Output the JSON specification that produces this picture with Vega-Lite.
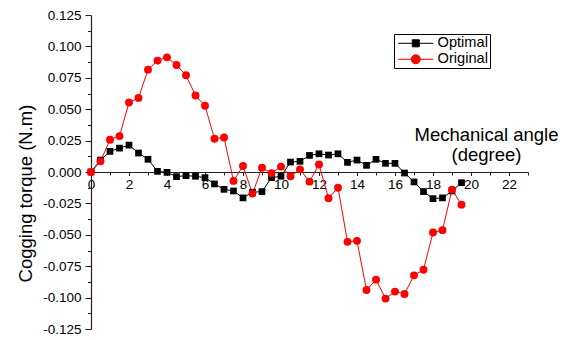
{
  "$schema": "https://vega.github.io/schema/vega-lite/v6.json",
  "autosize": "none",
  "padding": {"left": 91, "top": 15, "right": 36, "bottom": 11},
  "width": 437,
  "height": 314,
  "config": {
    "view": {"stroke": null},
    "font": "Liberation Sans",
    "axis": {"grid": false, "domainColor": "#222222", "tickColor": "#222222", "labelColor": "#000000", "titleColor": "#000000", "labelFont": "Liberation Sans", "titleFont": "Liberation Sans", "titleFontWeight": "normal"},
    "legend": {
      "orient": "none", "legendX": 303, "legendY": 19,
      "strokeColor": "#000000", "padding": 2, "fillColor": "#ffffff",
      "labelFont": "Liberation Sans", "labelFontSize": 14.6, "labelColor": "#000000",
      "labelOffset": 27, "rowPadding": 1, "symbolSize": 100, "symbolStrokeWidth": 1
    }
  },
  "data": {
    "values": [
      {"angle": 0, "torque": 0, "series": "Optimal"},
      {"angle": 0.5, "torque": 0.0095, "series": "Optimal"},
      {"angle": 1, "torque": 0.0164, "series": "Optimal"},
      {"angle": 1.5, "torque": 0.019, "series": "Optimal"},
      {"angle": 2, "torque": 0.0214, "series": "Optimal"},
      {"angle": 2.5, "torque": 0.0151, "series": "Optimal"},
      {"angle": 3, "torque": 0.0101, "series": "Optimal"},
      {"angle": 3.5, "torque": 0.0005, "series": "Optimal"},
      {"angle": 4, "torque": -0.0003, "series": "Optimal"},
      {"angle": 4.5, "torque": -0.0037, "series": "Optimal"},
      {"angle": 5, "torque": -0.0029, "series": "Optimal"},
      {"angle": 5.5, "torque": -0.0034, "series": "Optimal"},
      {"angle": 6, "torque": -0.0045, "series": "Optimal"},
      {"angle": 6.5, "torque": -0.0095, "series": "Optimal"},
      {"angle": 7, "torque": -0.0138, "series": "Optimal"},
      {"angle": 7.5, "torque": -0.0151, "series": "Optimal"},
      {"angle": 8, "torque": -0.0206, "series": "Optimal"},
      {"angle": 8.5, "torque": -0.0161, "series": "Optimal"},
      {"angle": 9, "torque": -0.0156, "series": "Optimal"},
      {"angle": 9.5, "torque": -0.0045, "series": "Optimal"},
      {"angle": 10, "torque": -0.0034, "series": "Optimal"},
      {"angle": 10.5, "torque": 0.0079, "series": "Optimal"},
      {"angle": 11, "torque": 0.0085, "series": "Optimal"},
      {"angle": 11.5, "torque": 0.0132, "series": "Optimal"},
      {"angle": 12, "torque": 0.0145, "series": "Optimal"},
      {"angle": 12.5, "torque": 0.0135, "series": "Optimal"},
      {"angle": 13, "torque": 0.0145, "series": "Optimal"},
      {"angle": 13.5, "torque": 0.0077, "series": "Optimal"},
      {"angle": 14, "torque": 0.0095, "series": "Optimal"},
      {"angle": 14.5, "torque": 0.0053, "series": "Optimal"},
      {"angle": 15, "torque": 0.0101, "series": "Optimal"},
      {"angle": 15.5, "torque": 0.0069, "series": "Optimal"},
      {"angle": 16, "torque": 0.0069, "series": "Optimal"},
      {"angle": 16.5, "torque": -0.0008, "series": "Optimal"},
      {"angle": 17, "torque": -0.0079, "series": "Optimal"},
      {"angle": 17.5, "torque": -0.0156, "series": "Optimal"},
      {"angle": 18, "torque": -0.0212, "series": "Optimal"},
      {"angle": 18.5, "torque": -0.0206, "series": "Optimal"},
      {"angle": 19, "torque": -0.0151, "series": "Optimal"},
      {"angle": 19.5, "torque": -0.0085, "series": "Optimal"},
      {"angle": 0, "torque": 0, "series": "Original"},
      {"angle": 0.5, "torque": 0.0085, "series": "Original"},
      {"angle": 1, "torque": 0.0257, "series": "Original"},
      {"angle": 1.5, "torque": 0.0286, "series": "Original"},
      {"angle": 2, "torque": 0.0553, "series": "Original"},
      {"angle": 2.5, "torque": 0.059, "series": "Original"},
      {"angle": 3, "torque": 0.0815, "series": "Original"},
      {"angle": 3.5, "torque": 0.0887, "series": "Original"},
      {"angle": 4, "torque": 0.0913, "series": "Original"},
      {"angle": 4.5, "torque": 0.0852, "series": "Original"},
      {"angle": 5, "torque": 0.077, "series": "Original"},
      {"angle": 5.5, "torque": 0.0609, "series": "Original"},
      {"angle": 6, "torque": 0.0527, "series": "Original"},
      {"angle": 6.5, "torque": 0.0265, "series": "Original"},
      {"angle": 7, "torque": 0.0275, "series": "Original"},
      {"angle": 7.5, "torque": -0.0071, "series": "Original"},
      {"angle": 8, "torque": 0.0048, "series": "Original"},
      {"angle": 8.5, "torque": -0.0172, "series": "Original"},
      {"angle": 9, "torque": 0.0034, "series": "Original"},
      {"angle": 9.5, "torque": -0.0009, "series": "Original"},
      {"angle": 10, "torque": 0.0043, "series": "Original"},
      {"angle": 10.5, "torque": -0.0034, "series": "Original"},
      {"angle": 11, "torque": 0.0021, "series": "Original"},
      {"angle": 11.5, "torque": -0.0077, "series": "Original"},
      {"angle": 12, "torque": 0.006, "series": "Original"},
      {"angle": 12.5, "torque": -0.0209, "series": "Original"},
      {"angle": 13, "torque": -0.0125, "series": "Original"},
      {"angle": 13.5, "torque": -0.0556, "series": "Original"},
      {"angle": 14, "torque": -0.0548, "series": "Original"},
      {"angle": 14.5, "torque": -0.0939, "series": "Original"},
      {"angle": 15, "torque": -0.0857, "series": "Original"},
      {"angle": 15.5, "torque": -0.1008, "series": "Original"},
      {"angle": 16, "torque": -0.0952, "series": "Original"},
      {"angle": 16.5, "torque": -0.0971, "series": "Original"},
      {"angle": 17, "torque": -0.0823, "series": "Original"},
      {"angle": 17.5, "torque": -0.0778, "series": "Original"},
      {"angle": 18, "torque": -0.0482, "series": "Original"},
      {"angle": 18.5, "torque": -0.0463, "series": "Original"},
      {"angle": 19, "torque": -0.014, "series": "Original"},
      {"angle": 19.5, "torque": -0.026, "series": "Original"}
    ]
  },
  "resolve": {"axis": {"x": "independent", "y": "independent"}},
  "layer": [
    {
      "transform": [{"filter": "datum.angle < 0"}],
      "mark": {"type": "point", "filled": true, "opacity": 1, "strokeWidth": 1},
      "encoding": {
        "x": {"field": "angle", "type": "quantitative", "scale": {"domain": [0, 23], "nice": false, "zero": false}, "axis": null},
        "y": {"field": "torque", "type": "quantitative", "scale": {"domain": [-0.125, 0.125], "nice": false, "zero": false}, "axis": null},
        "fill": {
          "field": "series", "type": "nominal",
          "scale": {"domain": ["Optimal", "Original"], "range": ["#000000", "#ff0000"]},
          "legend": {"title": null}
        },
        "stroke": {
          "field": "series", "type": "nominal",
          "scale": {"domain": ["Optimal", "Original"], "range": ["#000000", "#ff0000"]},
          "legend": {"title": null}
        },
        "shape": {
          "field": "series", "type": "nominal",
          "scale": {"domain": ["Optimal", "Original"], "range": ["M-1,0H6M1.8,-0.7H3.2V0.7H1.8Z", "M-1,0H6M3.4,0A0.9,0.9 0 1,1 1.6,0A0.9,0.9 0 1,1 3.4,0Z"]},
          "legend": {"title": null}
        }
      }
    },
    {
      "mark": {"type": "line", "strokeWidth": 1},
      "encoding": {
        "x": {
          "field": "angle", "type": "quantitative",
          "axis": {
            "orient": "bottom", "offset": -157,
            "values": [0, 2, 4, 6, 8, 10, 12, 14, 16, 18, 20, 22],
            "format": "d", "labelFontSize": 13.5, "labelPadding": 2, "tickSize": 3.5,
            "labelFlush": false, "labelOverlap": false, "labelBound": false,
            "domainWidth": 1.2, "tickWidth": 1,
            "title": ["Mechanical angle", "(degree)"],
            "titleFontSize": 18.5, "titleAlign": "center", "titleAngle": 0,
            "titleBaseline": "alphabetic", "titleX": 395, "titleY": -32, "titleLineHeight": 20
          }
        },
        "y": {
          "field": "torque", "type": "quantitative",
          "axis": {
            "orient": "left",
            "values": [-0.125, -0.1, -0.075, -0.05, -0.025, 0, 0.025, 0.05, 0.075, 0.1, 0.125],
            "labelExpr": "replace(format(datum.value, '.3f'), '−', '-')",
            "labelFontSize": 13.5, "labelPadding": 4, "tickSize": 6,
            "labelOverlap": false, "labelFlush": false, "labelBound": false,
            "domainWidth": 1.2, "tickWidth": 1,
            "title": "Cogging torque (N.m)",
            "titleFontSize": 18.5, "titleX": -66, "titleY": 178,
            "titleAlign": "center", "titleBaseline": "middle", "titleAngle": 270
          }
        },
        "stroke": {"field": "series", "type": "nominal", "legend": {"title": null}}
      }
    },
    {
      "transform": [{"filter": "datum.series === 'Optimal'"}],
      "mark": {"type": "point", "shape": "square", "filled": true, "opacity": 1, "size": 45, "color": "#000000"},
      "encoding": {
        "x": {
          "field": "angle", "type": "quantitative",
          "axis": {
            "orient": "bottom", "offset": -157,
            "values": [1, 3, 5, 7, 9, 11, 13, 15, 17, 19, 21, 23],
            "labels": false, "domain": false, "tickSize": 3, "tickWidth": 1, "title": null
          }
        },
        "y": {
          "field": "torque", "type": "quantitative",
          "axis": {
            "orient": "left",
            "values": [-0.1125, -0.0875, -0.0625, -0.0375, -0.0125, 0.0125, 0.0375, 0.0625, 0.0875, 0.1125],
            "labels": false, "domain": false, "tickSize": 3.5, "tickWidth": 1, "title": null
          }
        }
      }
    },
    {
      "transform": [{"filter": "datum.series === 'Original'"}],
      "mark": {"type": "point", "shape": "circle", "filled": true, "opacity": 1, "size": 62, "color": "#ff0000"},
      "encoding": {
        "x": {"field": "angle", "type": "quantitative", "axis": null},
        "y": {"field": "torque", "type": "quantitative", "axis": null}
      }
    }
  ]
}
